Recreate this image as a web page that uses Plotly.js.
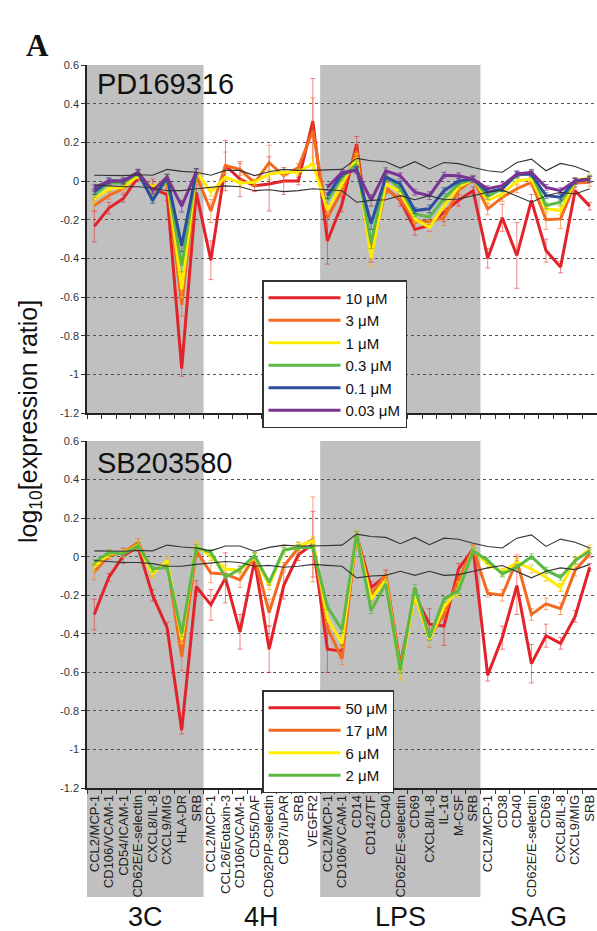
<!DOCTYPE html>
<html>
<head>
<meta charset="utf-8">
<script src="https://cdn.plot.ly/plotly-3.0.1.min.js"></script>
<style>
  html, body { margin: 0; padding: 0; background: #ffffff; }
  #chart { width: 597px; height: 931px; }
</style>
</head>
<body>
<div id="chart"></div>
<script>
// ---------- categories ----------
const categories = [
  'CCL2/MCP-1','CD106/VCAM-1','CD54/ICAM-1','CD62E/E-selectin','CXCL8/IL-8','CXCL9/MIG','HLA-DR','SRB',
  'CCL2/MCP-1','CCL26/Eotaxin-3','CD106/VCAM-1','CD55/DAF','CD62P/P-selectin','CD87/uPAR','SRB','VEGFR2',
  'CCL2/MCP-1','CD106/VCAM-1','CD14','CD142/TF','CD40','CD62E/E-selectin','CD69','CXCL8/IL-8','IL-1\u03b1','M-CSF','SRB',
  'CCL2/MCP-1','CD38','CD40','CD62E/E-selectin','CD69','CXCL8/IL-8','CXCL9/MIG','SRB'
];
const groupNames = ['3C', '4H', 'LPS', 'SAG'];
const groupStart = [0, 8, 16, 27];
const groupEnd   = [7, 15, 26, 34];
const shadedGroups = ['3C', 'LPS'];

const yTickVals = [-1.2, -1, -0.8, -0.6, -0.4, -0.2, 0, 0.2, 0.4, 0.6];
const yTickText = ['-1.2', '-1', '-0.8', '-0.6', '-0.4', '-0.2', '0', '0.2', '0.4', '0.6'];

// ---------- reference envelope (thin black lines) ----------
const envUpper = [0.030, 0.028, 0.028, 0.032, 0.030, 0.060, 0.050, 0.045,
  0.030, 0.055, 0.055, 0.028, 0.048, 0.060, 0.055, 0.055,
  0.058, 0.060, 0.117, 0.105, 0.100, 0.067, 0.100, 0.062, 0.096, 0.090, 0.070,
  0.053, 0.045, 0.096, 0.113, 0.053, 0.091, 0.075, 0.045];
const envLower = [-0.020, -0.025, -0.030, -0.030, -0.036, -0.050, -0.050, -0.040,
  -0.033, -0.025, -0.030, -0.050, -0.045, -0.055, -0.050, -0.040,
  -0.045, -0.050, -0.110, -0.100, -0.097, -0.076, -0.097, -0.076, -0.097, -0.093, -0.076,
  -0.058, -0.046, -0.076, -0.110, -0.076, -0.058, -0.067, -0.040];

// ---------- PD169316 (top panel) ----------
const pdNames = ['10 \u03bcM', '3 \u03bcM', '1 \u03bcM', '0.3 \u03bcM', '0.1 \u03bcM', '0.03 \u03bcM'];
const pd10 = [-0.235, -0.140, -0.090, 0.020, -0.040, -0.070, -0.970, -0.060,
  -0.410, 0.080, 0.010, -0.025, -0.015, 0.000, 0.000, 0.310,
  -0.310, -0.120, 0.190, -0.370, -0.035, -0.100, -0.250, -0.230, -0.160, -0.100, -0.050,
  -0.400, -0.190, -0.385, -0.100, -0.360, -0.445, -0.050, -0.130];
const pd3 = [-0.127, -0.075, -0.040, 0.035, -0.040, -0.010, -0.640, 0.030,
  -0.155, 0.080, 0.060, -0.010, 0.095, 0.027, 0.070, 0.260,
  -0.190, -0.050, 0.155, -0.380, -0.040, -0.095, -0.210, -0.210, -0.190, -0.050, 0.010,
  -0.145, -0.085, -0.040, -0.007, -0.200, -0.196, -0.010, -0.007];
const pd1 = [-0.095, -0.040, -0.033, 0.027, -0.035, 0.010, -0.560, 0.048,
  -0.058, 0.020, -0.010, -0.007, 0.036, 0.045, 0.045, 0.090,
  -0.150, -0.015, 0.120, -0.400, -0.015, -0.058, -0.196, -0.240, -0.130, -0.030, 0.010,
  -0.100, -0.067, 0.000, 0.010, -0.144, -0.153, 0.000, 0.020];
const pd03 = [-0.070, -0.010, -0.010, 0.040, -0.090, 0.010, -0.440, 0.048,
  null, null, null, null, null, null, null, null,
  -0.100, 0.020, 0.088, -0.320, 0.027, -0.040, -0.170, -0.187, -0.090, -0.015, 0.010,
  -0.080, -0.040, 0.030, 0.040, -0.127, -0.110, 0.000, 0.010];
const pd01 = [-0.055, 0.000, 0.000, 0.045, -0.100, 0.020, -0.335, 0.048,
  null, null, null, null, null, null, null, null,
  -0.076, 0.036, 0.060, -0.220, 0.020, -0.015, -0.153, -0.144, -0.050, 0.000, 0.010,
  -0.058, -0.040, 0.036, 0.035, -0.076, -0.084, 0.000, 0.010];
const pd003 = [-0.036, 0.000, 0.000, 0.045, -0.050, 0.020, -0.130, 0.048,
  null, null, null, null, null, null, null, null,
  -0.033, 0.045, 0.055, -0.100, 0.053, 0.027, -0.058, -0.076, 0.030, 0.027, 0.010,
  -0.040, -0.024, 0.036, 0.045, -0.033, -0.050, 0.000, 0.010];

const pd10Err = [0.08, 0.03, 0.02, 0.02, 0.05, 0.03, 0.04, 0.04,
  0.10, 0.13, 0.09, 0.03, 0.14, 0.07, 0.02, 0.22,
  0.12, 0.04, 0.04, 0.05, 0.03, 0.03, 0.03, 0.03, 0.05, 0.03, 0.02,
  0.05, 0.07, 0.17, 0.03, 0.06, 0.03, 0.02, 0.02];
const pd3Err = [0.03, 0.02, 0.02, 0.02, 0.02, 0.02, 0.06, 0.02,
  0.06, 0.07, 0.03, 0.02, 0.09, 0.03, 0.02, 0.17,
  0.04, 0.02, 0.03, 0.04, 0.02, 0.02, 0.03, 0.02, 0.04, 0.02, 0.02,
  0.03, 0.02, 0.02, 0.02, 0.05, 0.05, 0.02, 0.02];
const pd1Err = [0.02, 0.015, 0.015, 0.015, 0.015, 0.015, 0.04, 0.015,
  0.02, 0.02, 0.015, 0.015, 0.02, 0.015, 0.015, 0.03,
  0.02, 0.015, 0.02, 0.04, 0.015, 0.015, 0.02, 0.05, 0.02, 0.015, 0.015,
  0.02, 0.015, 0.015, 0.015, 0.02, 0.02, 0.015, 0.015];
const pd03Err = [0.015, 0.015, 0.015, 0.015, 0.015, 0.015, 0.03, 0.015,
  null, null, null, null, null, null, null, null,
  0.015, 0.015, 0.015, 0.03, 0.015, 0.015, 0.015, 0.02, 0.015, 0.015, 0.015,
  0.015, 0.015, 0.015, 0.015, 0.015, 0.015, 0.015, 0.015];
const pd01Err = pd03Err;
const pd003Err = pd03Err;

// ---------- SB203580 (bottom panel) ----------
const sbNames = ['50 \u03bcM', '17 \u03bcM', '6 \u03bcM', '2 \u03bcM'];
const sb50 = [-0.300, -0.107, 0.005, 0.050, -0.200, -0.370, -0.900, -0.155,
  -0.250, -0.110, -0.390, -0.020, -0.480, -0.150, 0.010, 0.065,
  -0.480, -0.490, 0.110, -0.160, -0.100, -0.560, -0.200, -0.350, -0.360, -0.065, 0.040,
  -0.615, -0.420, -0.150, -0.555, -0.410, -0.450, -0.310, -0.055];
const sb17 = [-0.080, 0.005, 0.022, 0.074, -0.080, -0.030, -0.520, 0.030,
  -0.085, -0.090, -0.120, 0.000, -0.290, -0.050, 0.045, 0.090,
  -0.370, -0.530, 0.110, -0.200, -0.090, -0.570, -0.200, -0.420, -0.300, -0.120, 0.040,
  -0.190, -0.200, -0.020, -0.300, -0.245, -0.270, -0.070, 0.014];
const sb6 = [-0.055, 0.015, 0.018, 0.060, -0.090, -0.020, -0.430, 0.057,
  0.000, -0.064, -0.070, 0.000, -0.150, 0.030, 0.055, 0.083,
  -0.320, -0.450, 0.110, -0.220, -0.120, -0.600, -0.200, -0.430, -0.260, -0.170, 0.035,
  -0.040, -0.080, -0.030, -0.064, -0.107, -0.160, -0.020, 0.040];
const sb2 = [-0.030, 0.022, 0.014, 0.057, -0.064, -0.055, -0.400, 0.048,
  0.022, -0.107, -0.064, 0.005, -0.133, 0.034, 0.048, 0.048,
  -0.260, -0.380, 0.117, -0.280, -0.140, -0.590, -0.160, -0.420, -0.220, -0.176, 0.030,
  -0.020, -0.090, -0.055, 0.000, -0.070, -0.107, -0.020, 0.030];

const sb50Err = [0.08, 0.02, 0.04, 0.02, 0.03, 0.03, 0.02, 0.03,
  0.08, 0.13, 0.09, 0.02, 0.12, 0.07, 0.03, 0.17,
  0.12, 0.03, 0.02, 0.03, 0.03, 0.03, 0.03, 0.08, 0.10, 0.03, 0.02,
  0.03, 0.06, 0.15, 0.10, 0.06, 0.03, 0.03, 0.02];
const sb17Err = [0.04, 0.02, 0.02, 0.02, 0.02, 0.03, 0.07, 0.02,
  0.05, 0.02, 0.04, 0.02, 0.07, 0.02, 0.03, 0.22,
  0.03, 0.03, 0.02, 0.03, 0.02, 0.03, 0.02, 0.05, 0.02, 0.02, 0.02,
  0.02, 0.03, 0.03, 0.03, 0.03, 0.03, 0.03, 0.02];
const sb6Err = [0.02, 0.02, 0.02, 0.02, 0.02, 0.02, 0.02, 0.02,
  0.02, 0.02, 0.02, 0.02, 0.02, 0.02, 0.02, 0.02,
  0.02, 0.02, 0.02, 0.02, 0.02, 0.04, 0.02, 0.02, 0.02, 0.04, 0.02,
  0.02, 0.02, 0.02, 0.02, 0.02, 0.02, 0.02, 0.02];
const sb2Err = sb6Err.map(function () { return 0.015; });

// ---------- styling ----------
const colRed = '#e3232a', colOrange = '#f36b21', colYellow = '#ffec00',
      colGreen = '#5cb946', colBlue = '#2c4da0', colPurple = '#7a3392';
const errCol = {
  '#e3232a': 'rgba(227,35,42,0.55)', '#f36b21': 'rgba(243,107,33,0.6)',
  '#ffec00': 'rgba(240,200,0,0.8)', '#5cb946': 'rgba(92,185,70,0.7)',
  '#2c4da0': 'rgba(44,77,160,0.7)', '#7a3392': 'rgba(122,51,146,0.7)'
};
const FONT = 'Liberation Sans, Arial, Helvetica, sans-serif';

const xIdx = categories.map(function (_, i) { return i; });
const xBounds = [];
for (let i = 0; i <= categories.length; i++) xBounds.push(i - 0.5);

function series(x, y, err, color, name, xa, ya, legendId) {
  return {
    type: 'scatter', mode: 'lines', x: x, y: y, name: name,
    xaxis: xa, yaxis: ya, legend: legendId,
    line: { color: color, width: 3 },
    connectgaps: false,
    error_y: { type: 'data', array: err, visible: true, color: errCol[color], thickness: 1, width: 2.5 },
    hoverinfo: 'x+y+name'
  };
}
function envelope(x, y, xa, ya) {
  return {
    type: 'scatter', mode: 'lines', x: x, y: y, xaxis: xa, yaxis: ya,
    line: { color: '#333333', width: 1.1 }, showlegend: false, hoverinfo: 'skip'
  };
}

const traces = [
  series(xIdx, pd10, pd10Err, colRed, pdNames[0], 'x2', 'y2', 'legend'),
  series(xIdx, pd3, pd3Err, colOrange, pdNames[1], 'x2', 'y2', 'legend'),
  series(xIdx, pd1, pd1Err, colYellow, pdNames[2], 'x2', 'y2', 'legend'),
  series(xIdx, pd03, pd03Err, colGreen, pdNames[3], 'x2', 'y2', 'legend'),
  series(xIdx, pd01, pd01Err, colBlue, pdNames[4], 'x2', 'y2', 'legend'),
  series(xIdx, pd003, pd003Err, colPurple, pdNames[5], 'x2', 'y2', 'legend'),
  envelope(xIdx, envUpper, 'x2', 'y2'),
  envelope(xIdx, envLower, 'x2', 'y2'),
  series(xIdx, sb50, sb50Err, colRed, sbNames[0], 'x', 'y', 'legend2'),
  series(xIdx, sb17, sb17Err, colOrange, sbNames[1], 'x', 'y', 'legend2'),
  series(xIdx, sb6, sb6Err, colYellow, sbNames[2], 'x', 'y', 'legend2'),
  series(xIdx, sb2, sb2Err, colGreen, sbNames[3], 'x', 'y', 'legend2'),
  envelope(xIdx, envUpper, 'x', 'y'),
  envelope(xIdx, envLower, 'x', 'y')
];

// ---------- geometry ----------
const H = 931, marginT = 65, marginB = 143;
const plotH = H - marginT - marginB;          // 723
const topDomain = [(788 - 413) / plotH, 1];
const botDomain = [0, (788 - 441) / plotH];
function pyPaper(pagePx) { return (H - marginB - pagePx) / plotH; }

const shapes = [];
groupNames.forEach(function (g, k) {
  if (shadedGroups.indexOf(g) < 0) return;
  const x0 = groupStart[k] - 0.5, x1 = groupEnd[k] + 0.5;
  shapes.push({ type: 'rect', layer: 'below', xref: 'x2', yref: 'y2', x0: x0, x1: x1, y0: -1.2, y1: 0.6,
    fillcolor: '#c0c0c0', line: { width: 0 } });
  shapes.push({ type: 'rect', layer: 'below', xref: 'x', yref: 'paper', x0: x0, x1: x1,
    y0: pyPaper(897), y1: botDomain[1], fillcolor: '#c0c0c0', line: { width: 0 } });
});

const annotations = [
  { text: '<b>A</b>', xref: 'paper', yref: 'paper', x: (24 - 87) / 510, y: pyPaper(26),
    showarrow: false, font: { family: 'Liberation Serif, Times New Roman, serif', size: 31, color: '#111' } },
  { text: 'PD169316', xref: 'paper', yref: 'paper', x: (95 - 87) / 510, y: pyPaper(84), xanchor: 'left', yanchor: 'middle',
    showarrow: false, font: { family: FONT, size: 29, color: '#111' } },
  { text: 'SB203580', xref: 'paper', yref: 'paper', x: (95 - 87) / 510, y: pyPaper(463), xanchor: 'left', yanchor: 'middle',
    showarrow: false, font: { family: FONT, size: 29, color: '#111' } },
  { text: 'log<sub>10</sub>[expression ratio]', xref: 'paper', yref: 'paper', x: (30 - 87) / 510, y: pyPaper(422),
    textangle: -90, showarrow: false, xanchor: 'center', yanchor: 'middle',
    font: { family: FONT, size: 25, color: '#111' } }
];
groupNames.forEach(function (g, k) {
  annotations.push({ text: g, xref: 'x', yref: 'paper', x: (groupStart[k] + groupEnd[k]) / 2, y: pyPaper(917),
    showarrow: false, xanchor: 'center', yanchor: 'middle', font: { family: FONT, size: 27, color: '#111' } });
});

function yAxis(domain, anchor) {
  return {
    domain: domain, anchor: anchor, range: [-1.2, 0.6], tickmode: 'array',
    tickvals: yTickVals, ticktext: yTickText, ticks: 'outside', ticklen: 4, tickcolor: '#333',
    tickfont: { family: FONT, size: 11, color: '#333' },
    showline: true, linecolor: '#222', linewidth: 1.5, mirror: false,
    showgrid: true, gridcolor: '#555', griddash: 'dot', gridwidth: 1.2, zeroline: false, fixedrange: true
  };
}
function xAxis(anchor, labels) {
  return {
    anchor: anchor, domain: [0, 1], range: [-0.5, categories.length - 0.5],
    tickmode: 'array', tickvals: xIdx, ticktext: categories, showticklabels: labels,
    tickangle: -90, ticks: '', tickfont: { family: FONT, size: 13, color: '#222' },
    minor: { tickmode: 'array', tickvals: xBounds, ticks: 'outside', ticklen: 4, tickcolor: '#333', tickwidth: 1, showgrid: false },
    showline: true, linecolor: '#222', linewidth: 1.5, showgrid: false, zeroline: false, fixedrange: true
  };
}

const legendCommon = {
  xanchor: 'left', yanchor: 'top', bgcolor: '#ffffff', bordercolor: '#333', borderwidth: 1.5,
  font: { family: FONT, size: 15, color: '#111' }, itemwidth: 72, tracegroupgap: 0, traceorder: 'normal'
};

const layout = {
  width: 597, height: 931,
  margin: { l: 87, r: 0, t: marginT, b: marginB },
  paper_bgcolor: '#ffffff', plot_bgcolor: 'rgba(0,0,0,0)',
  xaxis: xAxis('y', true),
  xaxis2: xAxis('y2', false),
  yaxis: yAxis(botDomain, 'x'),
  yaxis2: yAxis(topDomain, 'x2'),
  legend: Object.assign({}, legendCommon, { x: (262 - 87) / 510, y: pyPaper(280) }),
  legend2: Object.assign({}, legendCommon, { x: (262 - 87) / 510, y: pyPaper(690) }),
  shapes: shapes,
  annotations: annotations,
  hovermode: 'closest'
};

Plotly.newPlot('chart', traces, layout, { displayModeBar: false, staticPlot: false });
</script>
</body>
</html>
